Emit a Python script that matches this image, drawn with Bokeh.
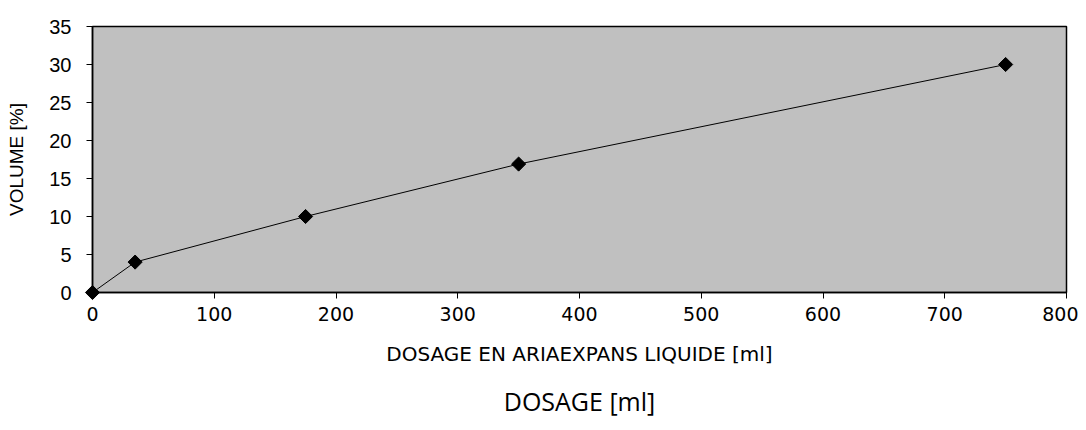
import math
from bokeh.plotting import figure
from bokeh.models import Range1d, FixedTicker, Title
from bokeh.embed import file_html
from bokeh.resources import INLINE

dosage_ml = [0, 35, 175, 350, 750]
volume_pct = [0, 4, 10, 16.9, 30]
x_ticks = [0, 100, 200, 300, 400, 500, 600, 700, 800]
y_ticks = [0, 5, 10, 15, 20, 25, 30, 35]

p = figure(width=1078, height=430, output_backend="svg", toolbar_location=None,
           x_range=Range1d(0, 800), y_range=Range1d(0, 35),
           min_border_left=92, min_border_right=12, min_border_top=26, min_border_bottom=137)
p.background_fill_color = "#C0C0C0"
p.border_fill_color = "white"
p.outline_line_color = "black"
p.outline_line_width = 1.5

p.line(dosage_ml, volume_pct, line_color="black", line_width=1)
p.scatter(dosage_ml, volume_pct, marker="square", size=10, angle=math.pi / 4,
          color="black", level="overlay")

p.grid.visible = False

xa = p.xaxis[0]
xa.ticker = FixedTicker(ticks=x_ticks)
xa.axis_label = "DOSAGE EN ARIAEXPANS LIQUIDE [ml]"
xa.axis_label_text_font = "DejaVu Sans"
xa.axis_label_text_font_style = "normal"
xa.axis_label_text_font_size = "20px"
xa.axis_label_text_color = "black"
xa.axis_label_standoff = 18
xa.major_label_text_font = "DejaVu Sans"
xa.major_label_text_font_size = "19px"
xa.major_label_text_color = "black"
xa.major_label_standoff = 8
xa.major_tick_out = 6
xa.major_tick_in = 0
xa.minor_tick_out = 0
xa.minor_tick_in = 0
xa.axis_line_color = "black"
xa.axis_line_width = 1.5

ya = p.yaxis[0]
ya.ticker = FixedTicker(ticks=y_ticks)
ya.axis_label = "VOLUME [%]"
ya.axis_label_text_font = "Liberation Sans"
ya.axis_label_text_font_style = "normal"
ya.axis_label_text_font_size = "19px"
ya.axis_label_text_color = "black"
ya.axis_label_standoff = 19
ya.major_label_text_font = "Liberation Sans"
ya.major_label_text_font_size = "20px"
ya.major_label_text_color = "black"
ya.major_label_standoff = 15
ya.major_label_orientation = "horizontal"
ya.major_tick_out = 6
ya.major_tick_in = 0
ya.minor_tick_out = 0
ya.minor_tick_in = 0
ya.axis_line_color = "black"
ya.axis_line_width = 1.5

t = Title(text="DOSAGE [ml]", align="center", text_font="Open Sans",
          text_font_size="25px", text_font_style="normal", text_color="black",
          standoff=26)
p.add_layout(t, "below")

open("out.html", "w").write(file_html(p, INLINE))
